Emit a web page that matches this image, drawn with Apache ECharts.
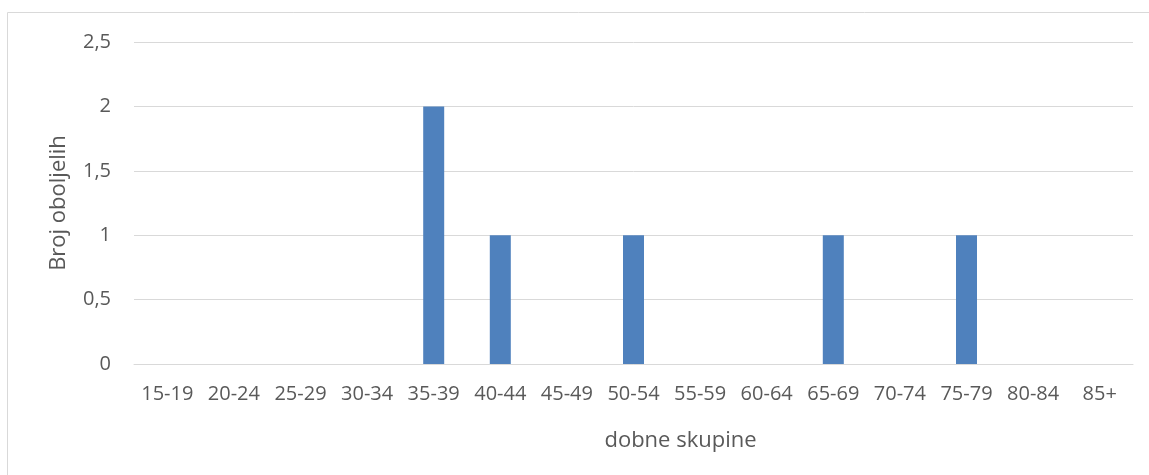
<!DOCTYPE html>
<html>
<head>
<meta charset="utf-8">
<script src="https://cdn.jsdelivr.net/npm/echarts@6/dist/echarts.min.js"></script>
<style>
  html, body { margin: 0; padding: 0; background: #fff; }
  #main { width: 1149px; height: 475px; }
</style>
</head>
<body>
<div id="main"></div>
<script>
// dobne skupine
var categories = ['15-19', '20-24', '25-29', '30-34', '35-39', '40-44', '45-49', '50-54',
  '55-59', '60-64', '65-69', '70-74', '75-79', '80-84', '85+']
// broj oboljelih
var values = [0, 0, 0, 0, 2, 1, 0, 1, 0, 0, 1, 0, 1, 0, 0]

var textColor = '#595959'
var fontFamily = '"Open Sans", "Noto Sans", sans-serif'

var myChart = echarts.init(document.getElementById('main'))
myChart.setOption({
  animation: false,
  graphic: [
    {
      type: 'rect',
      shape: { x: 7.5, y: 12.5, width: 1200, height: 500 },
      style: { fill: 'none', stroke: '#d9d9d9', lineWidth: 1 },
      silent: true
    }
  ],
  grid: {
    left: 134,
    right: 16,
    top: 42,
    bottom: 111
  },
  xAxis: {
    type: 'category',
    data: categories,
    name: 'dobne skupine',
    nameLocation: 'middle',
    nameGap: 66,
    nameTextStyle: {
      color: textColor,
      fontSize: 22,
      fontFamily: fontFamily,
      verticalAlign: 'top',
      padding: [0, 0, 0, 94]
    },
    axisLine: {
      lineStyle: { color: '#d9d9d9', width: 1 }
    },
    axisTick: { show: false },
    axisLabel: {
      color: textColor,
      fontSize: 20,
      fontFamily: fontFamily,
      margin: 20,
      interval: 0
    }
  },
  yAxis: {
    type: 'value',
    min: 0,
    max: 2.5,
    interval: 0.5,
    name: 'Broj oboljelih',
    nameLocation: 'middle',
    nameGap: 64,
    nameTextStyle: {
      color: textColor,
      fontSize: 22,
      fontFamily: fontFamily
    },
    axisLine: { show: false },
    axisTick: { show: false },
    axisLabel: {
      color: textColor,
      fontSize: 20,
      fontFamily: fontFamily,
      margin: 23,
      formatter: function (v) {
        return String(v).replace('.', ',')
      }
    },
    splitLine: {
      lineStyle: { color: '#d9d9d9', width: 1 }
    }
  },
  series: [
    {
      type: 'bar',
      data: values,
      barWidth: 21,
      itemStyle: { color: '#4f81bd' }
    }
  ]
})
</script>
</body>
</html>
